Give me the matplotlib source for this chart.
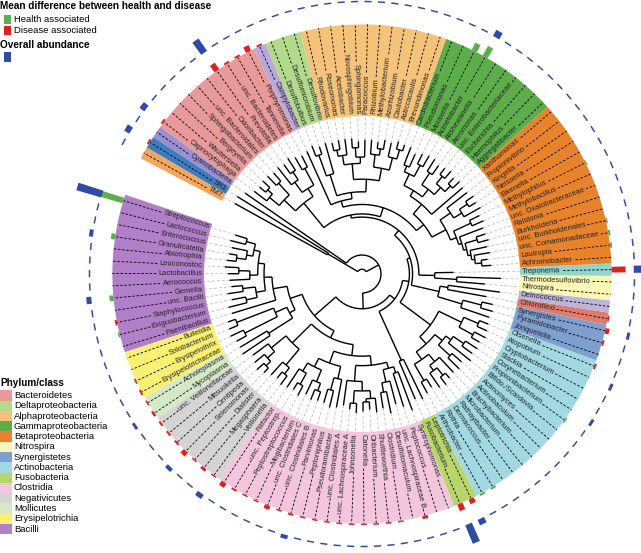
import numpy as np
import matplotlib
matplotlib.use("Agg")
from matplotlib import pyplot as plt
from matplotlib.patches import Wedge, Rectangle
from matplotlib.textpath import TextPath
from matplotlib.font_manager import FontProperties

plt.rcParams['font.family'] = ['Liberation Sans', 'DejaVu Sans']

# ---- tree (numbers after ':' = distance of node from the root, in band-radius units)
bacilli = ("(((((Streptococcus:0.84,Lactococcus:0.86):0.76,"
           "(Enterococcus:0.84,(Granulicatella:0.85,Abiotrophia:0.86):0.8):0.74):0.7,"
           "((Leuconostoc:0.87,Lactobacillus:0.85):0.78,Aerococcus:0.84):0.71):0.66,"
           "((Gemella:0.83,unc._Bacilli:0.86):0.76,"
           "(Staphylococcus:0.84,Exiguobacterium:0.87):0.75):0.68):0.62,"
           "Paenibacillus:0.86):0.57")
erymol = ("(((Bulleidia:0.9,Solobacterium:0.91):0.85,(Erysipelothrix:0.92,Erysipelotrichaceae:0.9):0.83):0.6,"
          "(Acholeplasma:0.9,Mycoplasma:0.91):0.7):0.52")
negativicutes = ("((unc._Veillonellaceae:0.86,(Mitsuokella:0.88,(Centipeda:0.9,Selenomonas:0.88):0.84):0.8):0.74,"
                 "(Dialister:0.86,(Megasphaera:0.85,Veillonella:0.87):0.8):0.75):0.62")
clos_a = ("(((Filifactor:0.86,(unc._Peptostrep.:0.85,Peptostreptococcus:0.87):0.8):0.72,"
          "(Mogibacterium:0.84,(unc._Clostridiales_C:0.86,unc._Clostridiales_B:0.85):0.79):0.74):0.66,"
          "((Parvimonas:0.85,Peptoniphilus:0.87):0.76,Pseudoramibacter:0.86):0.68):0.6")
clos_b = ("(unc._Clostridiales_A:0.84,((unc._Lachnospiraceae_A:0.86,Johnsonella:0.88):0.82,"
          "((Catonella:0.87,Oribacterium:0.86):0.81,Shuttleworthia:0.88):0.79):0.74):0.68")
clos_c = ("(((Clostridium:0.86,Desulfotomaculum:0.9):0.76,unc._Lachnospiraceae_B:0.85):0.7,"
          "(Peptococcus:0.88,Syntrophomonas:0.92):0.66):0.62")
fuso = "(Fusobacterium:0.86,Leptotrichia:0.88):0.6"
act1 = ("((Arthrobacter:0.86,Rothia:0.84):0.78,((Dermacoccus:0.87,(Rathayibacter:0.88,"
        "Microbacterium:0.86):0.82):0.76,Brachybacterium:0.85):0.72):0.66")
act2 = ("((Actinobaculum:0.86,Actinomyces:0.84):0.76,(Bifido./Scardovia:0.88,"
        "(Propionibacterium:0.86,Corynebacterium:0.87):0.78):0.7):0.66")
act3 = "((Slackia:0.86,Cryptobacterium:0.88):0.8,(Atopobium:0.87,Olsenella:0.86):0.8):0.7"
synerg = "(Jonquetella:0.85,(Pyramidobacter:0.86,Synergistes:0.85):0.78):0.66"
chldei = "(Chloroflexi:0.8,Deinococcus:0.88):0.55"
nitro = "(Nitrospira:0.78,Thermodesulfovibrio:0.88):0.6"
beta = ("(((((((Achromobacter:0.82,Lautropia:0.8):0.76,unc._Comamonadaceae:0.82):0.72,"
        "unc._Burkholderiales:0.81):0.7,(Burkholderia:0.83,Ralstonia:0.82):0.76):0.68,"
        "unc._Oxalobacteraceae:0.82):0.66,(Methylobacillus:0.84,Methylophilus:0.83):0.76):0.64,"
        "((Eikenella:0.86,(Neisseria:0.85,Kingella:0.86):0.8):0.74,Propionivibrio:0.84):0.68):0.6")
gamma = ("((((Aggregatibacter:0.85,Haemophilus:0.84):0.79,(Escherichia:0.86,unc._Enterobacteriaceae:0.85):0.8):0.74,"
         "(Aeromonas:0.84,Alishewanella:0.86):0.77):0.68,((Acinetobacter:0.86,Moraxella:0.85):0.78,"
         "(Pseudomonas:0.83,Cardiobacterium:0.86):0.74):0.7):0.62")
alpha = ("((((Brevundimonas:0.86,Asticcacaulis:0.87):0.82,Caulobacter:0.85):0.76,"
         "((Azorhizobium:0.86,Methylobacterium:0.84):0.8,Rhizobium:0.85):0.76):0.68,"
         "((Paracoccus:0.85,(Sphingomonas:0.84,Novosphingobium:0.86):0.8):0.74,"
         "(Acetobacter:0.86,(Roseomonas:0.86,Rhodovarius:0.85):0.8):0.76):0.7):0.6")
delta = "(Desulfovibrio:0.86,(Desulfomicrobium:0.85,Desulfobulbus:0.87):0.8):0.66"
bact = ("(((Porphyromonas:0.84,Tannerella:0.85):0.76,((unc._Bacteroidetes:0.87,Prevotella:0.85):0.78,"
        "Odoribacter:0.86):0.72):0.64,((unc._Bacteroidales:0.85,Sphingobacterium:0.86):0.78,"
        "((Bergeyella:0.86,Wautersiella:0.85):0.8,Capnocytophaga:0.86):0.76):0.68):0.58")

clostridia = f"({clos_a},({clos_b},{clos_c}):0.58):0.52"
firmicutes = f"(({bacilli},{erymol}):0.48,({negativicutes},{clostridia}):0.45):0.4"
actino = f"(({act1},{act2}):0.6,{act3}):0.54"
proteo = f"(({beta},(Xanthomonas:0.84,{gamma}):0.58):0.5,(({alpha},{delta}):0.52,Campylobacter:0.85):0.48):0.44"
rest = (f"({fuso},({actino},(({synerg},{chldei}):0.5,(({nitro},Treponema:0.58):0.46,"
        f"({proteo},{bact}):0.38):0.36):0.32):0.3):0.26")
TREE = f"((({firmicutes},{rest}):0.22,Cyanobacteria:0.9):0.12,(SR1:0.93,TM7:0.92):0.25):0.03"

# ---- colour band groups (in leaf order)
group_sizes = [13, 4, 2, 7, 20, 2, 15, 3, 1, 1, 2, 1, 14, 10, 12, 3, 1, 10, 1, 1, 1]
group_colors = ['#b07fc7', '#f8ef73', '#d5e9c7', '#d4d4d4', '#f3c6dd', '#b8d56b', '#a2d8e2',
                '#7e9fd0', '#e07c6c', '#bdb4dc', '#faf6b5', '#92d5cb', '#e9832b', '#5dae4b',
                '#f5c27a', '#b3d98c', '#b9a8da', '#e8999a', '#9b8fd1', '#3e7cc0', '#f2a65e']

# ---- mean difference health vs disease (+ health, - disease), arbitrary units
mean_diff = {
    'Streptococcus': 27, 'Granulicatella': 4, 'Gemella': 4, 'Staphylococcus': -2,
    'Exiguobacterium': 1.5, 'Erysipelothrix': -1.5, 'Erysipelotrichaceae': -2,
    'Acholeplasma': -1.5, 'Mycoplasma': -2.5, 'unc. Veillonellaceae': -2, 'Mitsuokella': -2,
    'Centipeda': -2, 'Selenomonas': -5, 'Dialister': -1.5, 'Megasphaera': -3, 'Veillonella': -1.5,
    'Filifactor': -5, 'unc. Peptostrep.': -2, 'Peptostreptococcus': -1.5, 'Mogibacterium': -1.5,
    'unc. Clostridiales C': -4, 'unc. Clostridiales B': -1.5, 'Parvimonas': -2,
    'Peptoniphilus': -1.5, 'Pseudoramibacter': -1.5, 'unc. Clostridiales A': -1.5,
    'unc. Lachnospiraceae A': -1.5, 'Johnsonella': -1.5, 'Catonella': -1.5, 'Oribacterium': -1.5,
    'Shuttleworthia': -1.5, 'Clostridium': -1.5, 'unc. Lachnospiraceae B': -3,
    'Fusobacterium': -7, 'Leptotrichia': -5, 'Arthrobacter': 2, 'Rothia': 2,
    'Propionibacterium': 1.5, 'Olsenella': -2, 'Pyramidobacter': -2, 'Synergistes': -4,
    'Chloroflexi': -1.5, 'Treponema': -14, 'Lautropia': 2, 'unc. Comamonadaceae': 2,
    'unc. Burkholderiales': 1.5, 'Methylophilus': 1, 'Acinetobacter': 11, 'Moraxella': 8,
    'Campylobacter': -2, 'Porphyromonas': -6, 'Tannerella': -2, 'unc. Bacteroidetes': -2,
    'Prevotella': -8, 'Capnocytophaga': -2, 'SR1': -2,
}
# ---- overall abundance, arbitrary units (unlisted genera ~1.5)
abundance = {
    'Streptococcus': 26, 'Granulicatella': 4, 'Gemella': 5, 'Mycoplasma': 3, 'Selenomonas': 4,
    'Veillonella': 5, 'Parvimonas': 4, 'Fusobacterium': 20, 'Leptotrichia': 6,
    'Corynebacterium': 3, 'Atopobium': 3, 'Synergistes': 3, 'Treponema': 8,
    'Acinetobacter': 7, 'Prevotella': 15, 'Capnocytophaga': 6, 'SR1': 6,
}
ABUND_BASE = 1.5

phyla = ['Bacteroidetes', 'Deltaproteobacteria', 'Alphaproteobacteria', 'Gammaproteobacteria',
         'Betaproteobacteria', 'Nitrospira', 'Synergistetes', 'Actinobacteria', 'Fusobacteria',
         'Clostridia', 'Negativicutes', 'Mollicutes', 'Erysipelotrichia', 'Bacilli']
phyla_colors = ['#e8999a', '#b3d98c', '#f5c27a', '#5dae4b', '#e9832b', '#faf6b5', '#7e9fd0',
                '#a2d8e2', '#b8d56b', '#f3c6dd', '#d4d4d4', '#d5e9c7', '#f8ef73', '#b07fc7']

GREEN, RED, BLUE = '#5aae4c', '#e0201f', '#2f4ba8'

# ---- geometry (pixels)
W, H, DPI = 641, 553, 100
CX, CY, PX = 362, 274, 158.0
R_IN, R_OUT, R_AB = 1.0, 1.58, 1.72
START, STEP = 162.9, 2.83
LABEL_PT = 5.4


def parse(s):
    s = "".join(s.split())
    pos = 0

    def node():
        nonlocal pos
        kids = []
        if s[pos] == '(':
            pos += 1
            kids.append(node())
            while s[pos] == ',':
                pos += 1
                kids.append(node())
            pos += 1
        st = pos
        while s[pos] not in ':,();':
            pos += 1
        name = s[st:pos]
        h = 0.0
        if s[pos] == ':':
            pos += 1
            st = pos
            while s[pos] not in ',();':
                pos += 1
            h = float(s[st:pos])
        return {'name': name.replace('_', ' '), 'h': h, 'kids': kids}
    return node()


root = parse(TREE + ";")
leaves = []


def layout(nd):
    if not nd['kids']:
        nd['a'] = START + STEP * len(leaves)
        leaves.append(nd)
    else:
        for k in nd['kids']:
            layout(k)
        nd['a'] = 0.5 * (nd['kids'][0]['a'] + nd['kids'][-1]['a'])


layout(root)
theta = np.array([lf['a'] for lf in leaves])

fig = plt.figure(figsize=(W / DPI, H / DPI), dpi=DPI)
ax = fig.add_axes([0, 0, 1, 1])
ax.set_xlim(-CX / PX, (W - CX) / PX)
ax.set_ylim((CY - H) / PX, CY / PX)
ax.axis('off')


def P(px, py):
    return ((px - CX) / PX, (CY - py) / PX)


def pol(r, deg):
    a = np.deg2rad(deg)
    return r * np.cos(a), r * np.sin(a)


# colour band
i0 = 0
for size, col in zip(group_sizes, group_colors):
    t1 = theta[i0] - STEP / 2
    t2 = theta[i0 + size - 1] + STEP / 2
    ax.add_patch(Wedge((0, 0), R_OUT, t1, t2, width=R_OUT - R_IN, facecolor=col, lw=0, zorder=1))
    i0 += size


# tree
def draw(nd):
    for k in nd['kids']:
        x0, y0 = pol(nd['h'], k['a'])
        x1, y1 = pol(k['h'], k['a'])
        ax.plot([x0, x1], [y0, y1], color='k', lw=1.0, solid_capstyle='butt', zorder=3)
        draw(k)
    if nd['kids']:
        t = np.linspace(nd['kids'][0]['a'], nd['kids'][-1]['a'], 80)
        x, y = pol(nd['h'], t)
        ax.plot(x, y, color='k', lw=1.0, solid_capstyle='butt', zorder=3)


draw(root)

fp = FontProperties(family='Liberation Sans', size=LABEL_PT)
r_lab = R_IN + 0.013
for lf in leaves:
    deg = lf['a']
    name = lf['name']
    # grey guide from tip to band
    x0, y0 = pol(lf['h'], deg)
    x1, y1 = pol(R_IN, deg)
    ax.plot([x0, x1], [y0, y1], color='#b0b0b0', lw=0.5, ls=(0, (4, 3)), zorder=2)
    d = deg % 360
    if 90 < d < 270:
        rot, ha = d - 180, 'right'
    else:
        rot, ha = d, 'left'
    x, y = pol(r_lab, deg)
    ax.text(x, y, name, rotation=rot, rotation_mode='anchor', ha=ha, va='center',
            fontsize=LABEL_PT, color='#222222', zorder=4)
    w = TextPath((0, 0), name, size=LABEL_PT, prop=fp).get_extents().width * DPI / 72 / PX
    r0 = r_lab + w + 0.02
    if r0 < R_OUT:
        xa, ya = pol(r0, deg)
        xb, yb = pol(R_OUT, deg)
        ax.plot([xa, xb], [ya, yb], color='k', lw=0.6, ls=(0, (3, 2)), zorder=4)

# bars
for lf in leaves:
    deg = lf['a']
    v = mean_diff.get(lf['name'], 0)
    if v != 0:
        L = abs(v) / PX
        ax.add_patch(Wedge((0, 0), R_OUT + L, deg - 0.65, deg + 0.65, width=L,
                           facecolor=GREEN if v > 0 else RED, lw=0, zorder=5))
    a = abundance.get(lf['name'], ABUND_BASE) / PX
    ax.add_patch(Wedge((0, 0), R_AB + a, deg - 0.75, deg + 0.75, width=a,
                       facecolor=BLUE, lw=0, zorder=6))

# legends
TITLE_PT, ENTRY_PT = 7.2, 6.8
ax.text(*P(0, 6), 'Mean difference between health and disease', fontsize=TITLE_PT,
        fontweight='bold', va='center', ha='left')
ax.add_patch(Rectangle(P(4, 24), 7 / PX, 9 / PX, facecolor=GREEN, lw=0))
ax.text(*P(14, 20), 'Health associated', fontsize=ENTRY_PT, va='center', ha='left')
ax.add_patch(Rectangle(P(4, 35), 7 / PX, 9 / PX, facecolor=RED, lw=0))
ax.text(*P(14, 30.5), 'Disease associated', fontsize=ENTRY_PT, va='center', ha='left')
ax.text(*P(0, 45), 'Overall abundance', fontsize=TITLE_PT, fontweight='bold',
        va='center', ha='left')
ax.add_patch(Rectangle(P(4, 62), 7 / PX, 10 / PX, facecolor=BLUE, lw=0))

LEG_Y0, LEG_DY = 395.5, 10.27
ax.text(*P(0, LEG_Y0 - 13), 'Phylum/class', fontsize=TITLE_PT, fontweight='bold',
        va='center', ha='left')
for k, (name, col) in enumerate(zip(phyla, phyla_colors)):
    yc = LEG_Y0 + LEG_DY * k
    ax.add_patch(Rectangle(P(0, yc + LEG_DY / 2), 12 / PX, LEG_DY / PX, facecolor=col, lw=0))
    ax.text(*P(14, yc), name, fontsize=ENTRY_PT, va='center', ha='left')

fig.savefig('out.png', dpi=DPI)
